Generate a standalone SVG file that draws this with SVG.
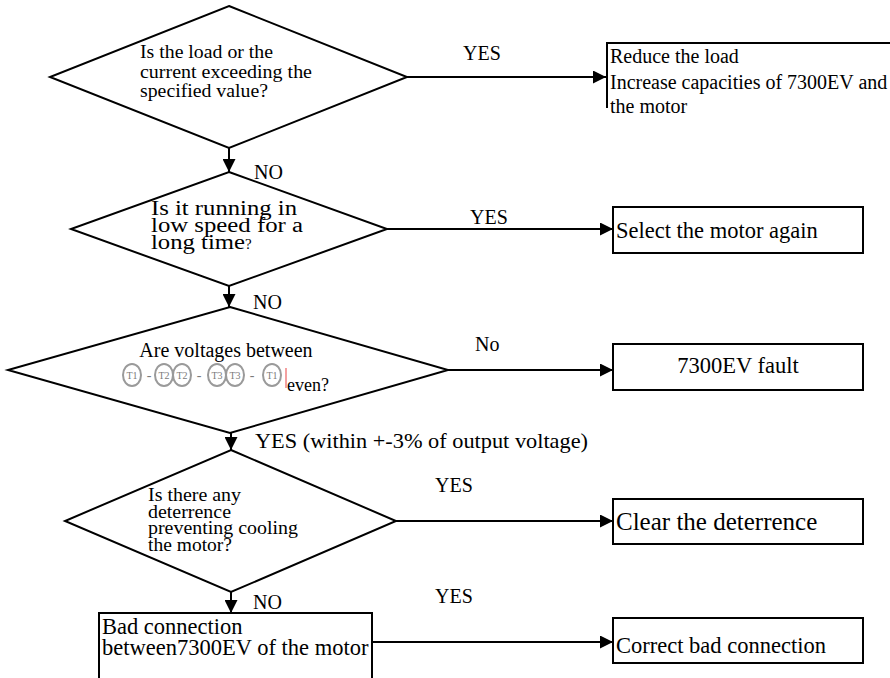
<svg xmlns="http://www.w3.org/2000/svg" width="890" height="678" viewBox="0 0 890 678">
<defs>
<marker id="ah" markerWidth="13" markerHeight="13" refX="13" refY="6.5" orient="auto" markerUnits="userSpaceOnUse">
<path d="M0,0 L13,6.5 L0,13 Z" fill="#000"/>
</marker>
<style>
.shape{fill:#fff;stroke:#000;stroke-width:2}
.conn{fill:none;stroke:#000;stroke-width:2;marker-end:url(#ah)}
text{font-family:"Liberation Serif","Times New Roman",serif;fill:#000}
.m{font-size:20px}
.l{font-size:22.5px}
.q{font-size:18px}
.c ellipse{fill:none;stroke:#9a9a9a;stroke-width:2}
.c text{font-size:10px;fill:#7a7a7a;text-anchor:middle}
.c .d{font-size:14px}
</style>
</defs>
<rect width="890" height="678" fill="#fff"/>

<g id="connectors">
<path class="conn" d="M407,77 H606"/>
<path class="conn" d="M229,148 V172"/>
<path class="conn" d="M387,229 H613"/>
<path class="conn" d="M229,286 V307"/>
<path class="conn" d="M448,370 H613"/>
<path class="conn" d="M231,433 V450"/>
<path class="conn" d="M396,521 H613"/>
<path class="conn" d="M231,592 V613"/>
<path class="conn" d="M372,642 H613"/>
<text class="m" x="463" y="60">YES</text>
<text class="m" x="254" y="179">NO</text>
<text class="m" x="470" y="224">YES</text>
<text class="m" x="253" y="309">NO</text>
<text class="m" x="475" y="351">No</text>
<text x="255" y="448" font-size="21" textLength="333" lengthAdjust="spacingAndGlyphs">YES (within +-3% of output voltage)</text>
<text class="m" x="435" y="492">YES</text>
<text class="m" x="253" y="609">NO</text>
<text class="m" x="435" y="603">YES</text>
</g>

<g id="q1">
<polygon class="shape" points="229,6 407,77 229,148 50,77"/>
<text class="q" x="140" y="58" textLength="133" lengthAdjust="spacingAndGlyphs">Is the load or the</text>
<text class="q" x="140" y="78" textLength="172" lengthAdjust="spacingAndGlyphs">current exceeding the</text>
<text class="q" x="140" y="97" textLength="128" lengthAdjust="spacingAndGlyphs">specified value?</text>
</g>

<g id="r1">
<path fill="#fff" stroke="#000" stroke-width="2" d="M607,108 V43 H892"/>
<text class="m" x="610" y="63">Reduce the load</text>
<text class="m" x="610" y="89">Increase capacities of 7300EV and</text>
<text class="m" x="610" y="113">the motor</text>
</g>

<g id="q2">
<polygon class="shape" points="229,172 387,229 229,286 71,229"/>
<text x="151" y="215" font-size="20" textLength="146" lengthAdjust="spacingAndGlyphs">Is it running in</text>
<text x="151" y="232" font-size="20" textLength="152" lengthAdjust="spacingAndGlyphs">low speed for a</text>
<text x="151" y="249" font-size="20"><tspan textLength="94" lengthAdjust="spacingAndGlyphs">long time</tspan><tspan font-size="15">?</tspan></text>
</g>

<g id="r2">
<rect class="shape" x="613" y="207" width="250" height="46"/>
<text class="l" x="616" y="238">Select the motor again</text>
</g>

<g id="q3">
<polygon class="shape" points="230,307 448,370 230,433 8,370"/>
<text class="m" x="226" y="357" text-anchor="middle">Are voltages between</text>
<g class="c">
<ellipse cx="132" cy="375" rx="9" ry="11"/><text x="132" y="379">T1</text>
<text class="d" x="149" y="380">-</text>
<ellipse cx="164" cy="375" rx="9" ry="11"/><text x="164" y="379">T2</text>
<ellipse cx="182" cy="375" rx="9" ry="11"/><text x="182" y="379">T2</text>
<text class="d" x="199" y="380">-</text>
<ellipse cx="217" cy="375" rx="9" ry="11"/><text x="217" y="379">T3</text>
<ellipse cx="235" cy="375" rx="9" ry="11"/><text x="235" y="379">T3</text>
<text class="d" x="252" y="380">-</text>
<ellipse cx="272" cy="375" rx="9" ry="11"/><text x="272" y="379">T1</text>
</g>
<line x1="286" y1="368" x2="286" y2="388" stroke="#f08080" stroke-width="1.5"/>
<text x="287" y="391" font-size="18">even?</text>
</g>

<g id="r3">
<rect class="shape" x="613" y="344" width="250" height="46"/>
<text class="l" x="738" y="373" text-anchor="middle">7300EV fault</text>
</g>

<g id="q4">
<polygon class="shape" points="231,450 396,521 231,592 65,521"/>
<text class="q" x="148" y="501" textLength="93" lengthAdjust="spacingAndGlyphs">Is there any</text>
<text class="q" x="148" y="518" textLength="83" lengthAdjust="spacingAndGlyphs">deterrence</text>
<text class="q" x="148" y="534" textLength="150" lengthAdjust="spacingAndGlyphs">preventing cooling</text>
<text class="q" x="148" y="551" textLength="84" lengthAdjust="spacingAndGlyphs">the motor?</text>
</g>

<g id="r4">
<rect class="shape" x="613" y="499" width="250" height="45"/>
<text x="616" y="530" font-size="25">Clear the deterrence</text>
</g>

<g id="p5">
<rect class="shape" x="99" y="613" width="273" height="80"/>
<text class="l" x="102" y="634">Bad connection</text>
<text class="l" x="102" y="655">between7300EV of the motor</text>
</g>

<g id="r5">
<rect class="shape" x="613" y="618" width="250" height="45"/>
<text class="l" x="616" y="653">Correct bad connection</text>
</g>
</svg>
